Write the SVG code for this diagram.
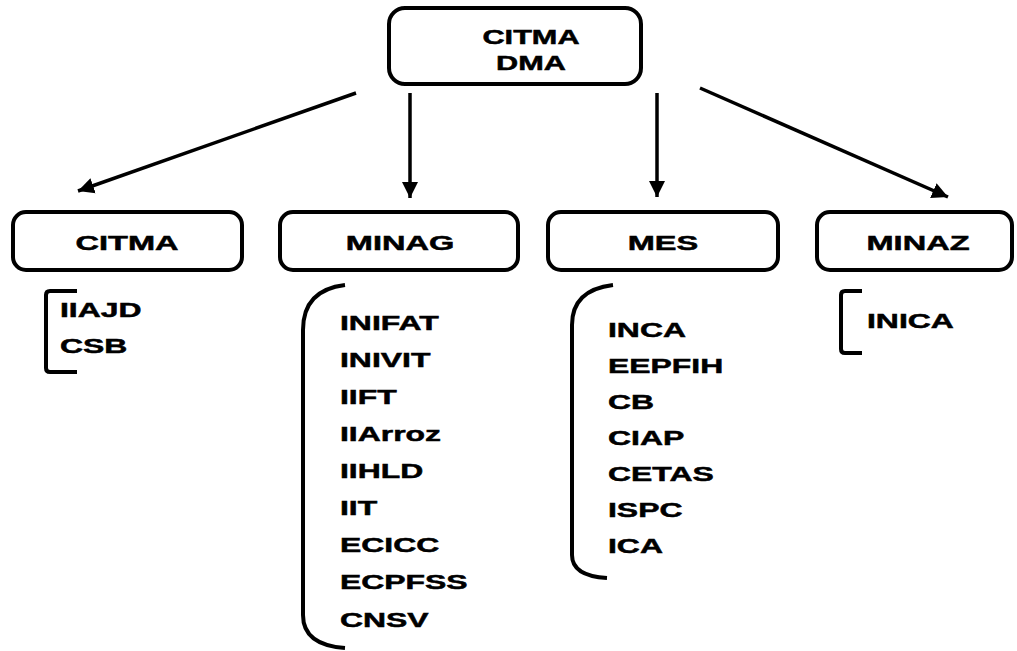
<svg xmlns="http://www.w3.org/2000/svg" width="1017" height="651" viewBox="0 0 1017 651">
<style>
.box{fill:#fff;stroke:#000;stroke-width:4}
.t{font-family:"Liberation Sans",Arial,sans-serif;font-weight:bold;font-size:21px;fill:#000;stroke:#000;stroke-width:0.5}
.c{text-anchor:middle}
.br{fill:none;stroke:#000;stroke-width:4}
.ar{fill:none;stroke:#000;stroke-width:3.5}
</style>
<defs>
<marker id="ah" markerUnits="userSpaceOnUse" markerWidth="18" markerHeight="18" viewBox="0 0 18 18" refX="16" refY="9" orient="auto">
<path d="M0,1 L16,9 L0,17 Z" fill="#000"/>
</marker>
</defs>
<g id="connectors">
<line class="ar" x1="356" y1="93" x2="78" y2="191" marker-end="url(#ah)"/>
<line class="ar" x1="410" y1="93" x2="410" y2="198" marker-end="url(#ah)"/>
<line class="ar" x1="657" y1="93" x2="657" y2="197" marker-end="url(#ah)"/>
<line class="ar" x1="700" y1="88" x2="948" y2="197" marker-end="url(#ah)"/>
</g>
<g id="root">
<rect class="box" x="389" y="8" width="252" height="76" rx="16"/>
<text class="t c" transform="translate(531,44) scale(1.46,1)" font-size="23">CITMA</text>
<text class="t c" transform="translate(531,70) scale(1.46,1)" font-size="23">DMA</text>
</g>
<g id="citma">
<rect class="box" x="13" y="212" width="229" height="58" rx="13"/>
<text class="t c" transform="translate(127,250) scale(1.55,1)">CITMA</text>
<path class="br" d="M77,291 L50,291 Q46,291 46,295 L46,368 Q46,372 50,372 L77,372"/>
<text class="t" transform="translate(60,317) scale(1.52,1)">IIAJD</text>
<text class="t" transform="translate(60,353) scale(1.52,1)">CSB</text>
</g>
<g id="minag">
<rect class="box" x="280" y="212" width="238" height="58" rx="13"/>
<text class="t c" transform="translate(400,250) scale(1.55,1)">MINAG</text>
<path class="br" d="M345,285 Q303,290 303,330 L303,615 Q303,645 345,648"/>
<text class="t" transform="translate(340,330) scale(1.52,1)">INIFAT</text>
<text class="t" transform="translate(340,367) scale(1.52,1)">INIVIT</text>
<text class="t" transform="translate(340,404) scale(1.52,1)">IIFT</text>
<text class="t" transform="translate(340,441) scale(1.52,1)">IIArroz</text>
<text class="t" transform="translate(340,478) scale(1.52,1)">IIHLD</text>
<text class="t" transform="translate(340,515) scale(1.52,1)">IIT</text>
<text class="t" transform="translate(340,552) scale(1.52,1)">ECICC</text>
<text class="t" transform="translate(340,589) scale(1.52,1)">ECPFSS</text>
<text class="t" transform="translate(340,627) scale(1.52,1)">CNSV</text>
</g>
<g id="mes">
<rect class="box" x="548" y="212" width="230" height="58" rx="13"/>
<text class="t c" transform="translate(663,250) scale(1.55,1)">MES</text>
<path class="br" d="M613,285 Q572,290 572,325 L572,555 Q572,576 607,578"/>
<text class="t" transform="translate(608,337) scale(1.52,1)">INCA</text>
<text class="t" transform="translate(608,373) scale(1.52,1)">EEPFIH</text>
<text class="t" transform="translate(608,409) scale(1.52,1)">CB</text>
<text class="t" transform="translate(608,445) scale(1.52,1)">CIAP</text>
<text class="t" transform="translate(608,481) scale(1.52,1)">CETAS</text>
<text class="t" transform="translate(608,517) scale(1.52,1)">ISPC</text>
<text class="t" transform="translate(608,553) scale(1.52,1)">ICA</text>
</g>
<g id="minaz">
<rect class="box" x="817" y="212" width="195" height="58" rx="13"/>
<text class="t c" transform="translate(918,250) scale(1.55,1)">MINAZ</text>
<path class="br" d="M862,291 L845,291 Q841,291 841,295 L841,349 Q841,353 845,353 L862,353"/>
<text class="t" transform="translate(867,328) scale(1.52,1)">INICA</text>
</g>
</svg>
